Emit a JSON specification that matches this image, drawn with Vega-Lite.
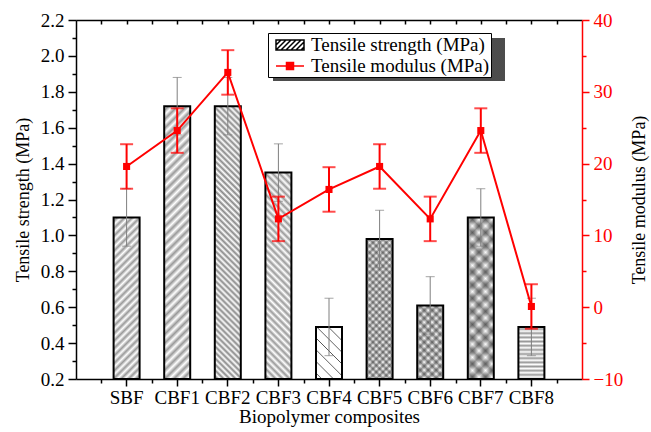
{
"$schema": "https://vega.github.io/schema/vega-lite/v6.json",
"width": 506,
"height": 359,
"autosize": "none",
"padding": {"left": 76, "top": 20, "right": 69, "bottom": 53},
"background": "white",
"data": {"values": [
 {"name": "SBF", "strength": 1.10, "strength_err": 0.16, "modulus": 19.6, "modulus_err": 3.1},
 {"name": "CBF1", "strength": 1.72, "strength_err": 0.16, "modulus": 24.6, "modulus_err": 3.1},
 {"name": "CBF2", "strength": 1.72, "strength_err": 0.16, "modulus": 32.7, "modulus_err": 3.1},
 {"name": "CBF3", "strength": 1.35, "strength_err": 0.16, "modulus": 12.3, "modulus_err": 3.1},
 {"name": "CBF4", "strength": 0.49, "strength_err": 0.16, "modulus": 16.4, "modulus_err": 3.1},
 {"name": "CBF5", "strength": 0.98, "strength_err": 0.16, "modulus": 19.6, "modulus_err": 3.1},
 {"name": "CBF6", "strength": 0.61, "strength_err": 0.16, "modulus": 12.3, "modulus_err": 3.1},
 {"name": "CBF7", "strength": 1.10, "strength_err": 0.16, "modulus": 24.6, "modulus_err": 3.1},
 {"name": "CBF8", "strength": 0.49, "strength_err": 0.16, "modulus": 0.1, "modulus_err": 3.1}
]},
"layer": [
 {
  "mark": {"type": "bar", "width": 26, "strokeWidth": 0},
  "encoding": {
   "x": {"field": "name", "type": "nominal", "sort": null, "scale": {"type": "band", "paddingInner": 0, "paddingOuter": 0.5},
         "axis": {"orient": "bottom", "tickSize": 7, "labelPadding": 2, "labelAngle": 0, "title": "Biopolymer composites", "titlePadding": 0, "titleFontSize": 19}},
   "y": {"field": "strength", "type": "quantitative", "scale": {"domain": [0.2, 2.2], "nice": false, "zero": false},
         "axis": {"orient": "left", "values": [0.2, 0.4, 0.6, 0.8, 1.0, 1.2, 1.4, 1.6, 1.8, 2.0, 2.2], "format": ".1f", "tickSize": 8, "labelPadding": 4, "title": "Tensile strength (MPa)", "titlePadding": 8}},
   "y2": {"datum": 0.2},
   "fill": {"condition": [
    {"test": "datum.name === 'SBF'", "value": {"gradient": "linear", "x1": 0, "y1": 0, "x2": 0.182, "y2": 1.132, "stops": [{"offset":0,"color":"#fff"},{"offset":0.02,"color":"#999"},{"offset":0.04,"color":"#fff"},{"offset":0.06,"color":"#999"},{"offset":0.08,"color":"#fff"},{"offset":0.1,"color":"#999"},{"offset":0.12,"color":"#fff"},{"offset":0.14,"color":"#999"},{"offset":0.16,"color":"#fff"},{"offset":0.18,"color":"#999"},{"offset":0.2,"color":"#fff"},{"offset":0.22,"color":"#999"},{"offset":0.24,"color":"#fff"},{"offset":0.26,"color":"#999"},{"offset":0.28,"color":"#fff"},{"offset":0.3,"color":"#999"},{"offset":0.32,"color":"#fff"},{"offset":0.34,"color":"#999"},{"offset":0.36,"color":"#fff"},{"offset":0.38,"color":"#999"},{"offset":0.4,"color":"#fff"},{"offset":0.42,"color":"#999"},{"offset":0.44,"color":"#fff"},{"offset":0.46,"color":"#999"},{"offset":0.48,"color":"#fff"},{"offset":0.5,"color":"#999"},{"offset":0.52,"color":"#fff"},{"offset":0.54,"color":"#999"},{"offset":0.56,"color":"#fff"},{"offset":0.58,"color":"#999"},{"offset":0.6,"color":"#fff"},{"offset":0.62,"color":"#999"},{"offset":0.64,"color":"#fff"},{"offset":0.66,"color":"#999"},{"offset":0.68,"color":"#fff"},{"offset":0.7,"color":"#999"},{"offset":0.72,"color":"#fff"},{"offset":0.74,"color":"#999"},{"offset":0.76,"color":"#fff"},{"offset":0.78,"color":"#999"},{"offset":0.8,"color":"#fff"},{"offset":0.82,"color":"#999"},{"offset":0.84,"color":"#fff"},{"offset":0.86,"color":"#999"},{"offset":0.88,"color":"#fff"},{"offset":0.9,"color":"#999"},{"offset":0.92,"color":"#fff"},{"offset":0.94,"color":"#999"},{"offset":0.96,"color":"#fff"},{"offset":0.98,"color":"#999"},{"offset":1,"color":"#fff"}]}},
    {"test": "datum.name === 'CBF1'", "value": {"gradient": "linear", "x1": 0, "y1": 0, "x2": 0.103, "y2": 1.085, "stops": [{"offset":0,"color":"#fff"},{"offset":0.015,"color":"#999"},{"offset":0.03,"color":"#fff"},{"offset":0.045,"color":"#999"},{"offset":0.06,"color":"#fff"},{"offset":0.075,"color":"#999"},{"offset":0.09,"color":"#fff"},{"offset":0.105,"color":"#999"},{"offset":0.12,"color":"#fff"},{"offset":0.135,"color":"#999"},{"offset":0.15,"color":"#fff"},{"offset":0.165,"color":"#999"},{"offset":0.18,"color":"#fff"},{"offset":0.195,"color":"#999"},{"offset":0.21,"color":"#fff"},{"offset":0.225,"color":"#999"},{"offset":0.24,"color":"#fff"},{"offset":0.255,"color":"#999"},{"offset":0.27,"color":"#fff"},{"offset":0.285,"color":"#999"},{"offset":0.3,"color":"#fff"},{"offset":0.315,"color":"#999"},{"offset":0.33,"color":"#fff"},{"offset":0.345,"color":"#999"},{"offset":0.36,"color":"#fff"},{"offset":0.375,"color":"#999"},{"offset":0.39,"color":"#fff"},{"offset":0.405,"color":"#999"},{"offset":0.42,"color":"#fff"},{"offset":0.435,"color":"#999"},{"offset":0.45,"color":"#fff"},{"offset":0.465,"color":"#999"},{"offset":0.48,"color":"#fff"},{"offset":0.495,"color":"#999"},{"offset":0.51,"color":"#fff"},{"offset":0.525,"color":"#999"},{"offset":0.54,"color":"#fff"},{"offset":0.555,"color":"#999"},{"offset":0.57,"color":"#fff"},{"offset":0.585,"color":"#999"},{"offset":0.6,"color":"#fff"},{"offset":0.615,"color":"#999"},{"offset":0.63,"color":"#fff"},{"offset":0.645,"color":"#999"},{"offset":0.66,"color":"#fff"},{"offset":0.675,"color":"#999"},{"offset":0.69,"color":"#fff"},{"offset":0.705,"color":"#999"},{"offset":0.72,"color":"#fff"},{"offset":0.735,"color":"#999"},{"offset":0.75,"color":"#fff"},{"offset":0.765,"color":"#999"},{"offset":0.78,"color":"#fff"},{"offset":0.795,"color":"#999"},{"offset":0.81,"color":"#fff"},{"offset":0.825,"color":"#999"},{"offset":0.84,"color":"#fff"},{"offset":0.855,"color":"#999"},{"offset":0.87,"color":"#fff"},{"offset":0.885,"color":"#999"},{"offset":0.9,"color":"#fff"},{"offset":0.915,"color":"#999"},{"offset":0.93,"color":"#fff"},{"offset":0.945,"color":"#999"},{"offset":0.96,"color":"#fff"},{"offset":0.975,"color":"#999"},{"offset":0.99,"color":"#fff"}]}},
    {"test": "datum.name === 'CBF2'", "value": {"gradient": "linear", "x1": 0, "y1": 1, "x2": 0.103, "y2": -0.085, "stops": [{"offset":0,"color":"#fff"},{"offset":0.01,"color":"#888"},{"offset":0.02,"color":"#fff"},{"offset":0.03,"color":"#888"},{"offset":0.04,"color":"#fff"},{"offset":0.05,"color":"#888"},{"offset":0.06,"color":"#fff"},{"offset":0.07,"color":"#888"},{"offset":0.08,"color":"#fff"},{"offset":0.09,"color":"#888"},{"offset":0.1,"color":"#fff"},{"offset":0.11,"color":"#888"},{"offset":0.12,"color":"#fff"},{"offset":0.13,"color":"#888"},{"offset":0.14,"color":"#fff"},{"offset":0.15,"color":"#888"},{"offset":0.16,"color":"#fff"},{"offset":0.17,"color":"#888"},{"offset":0.18,"color":"#fff"},{"offset":0.19,"color":"#888"},{"offset":0.2,"color":"#fff"},{"offset":0.21,"color":"#888"},{"offset":0.22,"color":"#fff"},{"offset":0.23,"color":"#888"},{"offset":0.24,"color":"#fff"},{"offset":0.25,"color":"#888"},{"offset":0.26,"color":"#fff"},{"offset":0.27,"color":"#888"},{"offset":0.28,"color":"#fff"},{"offset":0.29,"color":"#888"},{"offset":0.3,"color":"#fff"},{"offset":0.31,"color":"#888"},{"offset":0.32,"color":"#fff"},{"offset":0.33,"color":"#888"},{"offset":0.34,"color":"#fff"},{"offset":0.35,"color":"#888"},{"offset":0.36,"color":"#fff"},{"offset":0.37,"color":"#888"},{"offset":0.38,"color":"#fff"},{"offset":0.39,"color":"#888"},{"offset":0.4,"color":"#fff"},{"offset":0.41,"color":"#888"},{"offset":0.42,"color":"#fff"},{"offset":0.43,"color":"#888"},{"offset":0.44,"color":"#fff"},{"offset":0.45,"color":"#888"},{"offset":0.46,"color":"#fff"},{"offset":0.47,"color":"#888"},{"offset":0.48,"color":"#fff"},{"offset":0.49,"color":"#888"},{"offset":0.5,"color":"#fff"},{"offset":0.51,"color":"#888"},{"offset":0.52,"color":"#fff"},{"offset":0.53,"color":"#888"},{"offset":0.54,"color":"#fff"},{"offset":0.55,"color":"#888"},{"offset":0.56,"color":"#fff"},{"offset":0.57,"color":"#888"},{"offset":0.58,"color":"#fff"},{"offset":0.59,"color":"#888"},{"offset":0.6,"color":"#fff"},{"offset":0.61,"color":"#888"},{"offset":0.62,"color":"#fff"},{"offset":0.63,"color":"#888"},{"offset":0.64,"color":"#fff"},{"offset":0.65,"color":"#888"},{"offset":0.66,"color":"#fff"},{"offset":0.67,"color":"#888"},{"offset":0.68,"color":"#fff"},{"offset":0.69,"color":"#888"},{"offset":0.7,"color":"#fff"},{"offset":0.71,"color":"#888"},{"offset":0.72,"color":"#fff"},{"offset":0.73,"color":"#888"},{"offset":0.74,"color":"#fff"},{"offset":0.75,"color":"#888"},{"offset":0.76,"color":"#fff"},{"offset":0.77,"color":"#888"},{"offset":0.78,"color":"#fff"},{"offset":0.79,"color":"#888"},{"offset":0.8,"color":"#fff"},{"offset":0.81,"color":"#888"},{"offset":0.82,"color":"#fff"},{"offset":0.83,"color":"#888"},{"offset":0.84,"color":"#fff"},{"offset":0.85,"color":"#888"},{"offset":0.86,"color":"#fff"},{"offset":0.87,"color":"#888"},{"offset":0.88,"color":"#fff"},{"offset":0.89,"color":"#888"},{"offset":0.9,"color":"#fff"},{"offset":0.91,"color":"#888"},{"offset":0.92,"color":"#fff"},{"offset":0.93,"color":"#888"},{"offset":0.94,"color":"#fff"},{"offset":0.95,"color":"#888"},{"offset":0.96,"color":"#fff"},{"offset":0.97,"color":"#888"},{"offset":0.98,"color":"#fff"},{"offset":0.99,"color":"#888"},{"offset":1,"color":"#fff"}]}},
    {"test": "datum.name === 'CBF3'", "value": {"gradient": "linear", "x1": 0, "y1": 1, "x2": 0.14, "y2": -0.108, "stops": [{"offset":0,"color":"#fff"},{"offset":0.015,"color":"#999"},{"offset":0.03,"color":"#fff"},{"offset":0.045,"color":"#999"},{"offset":0.06,"color":"#fff"},{"offset":0.075,"color":"#999"},{"offset":0.09,"color":"#fff"},{"offset":0.105,"color":"#999"},{"offset":0.12,"color":"#fff"},{"offset":0.135,"color":"#999"},{"offset":0.15,"color":"#fff"},{"offset":0.165,"color":"#999"},{"offset":0.18,"color":"#fff"},{"offset":0.195,"color":"#999"},{"offset":0.21,"color":"#fff"},{"offset":0.225,"color":"#999"},{"offset":0.24,"color":"#fff"},{"offset":0.255,"color":"#999"},{"offset":0.27,"color":"#fff"},{"offset":0.285,"color":"#999"},{"offset":0.3,"color":"#fff"},{"offset":0.315,"color":"#999"},{"offset":0.33,"color":"#fff"},{"offset":0.345,"color":"#999"},{"offset":0.36,"color":"#fff"},{"offset":0.375,"color":"#999"},{"offset":0.39,"color":"#fff"},{"offset":0.405,"color":"#999"},{"offset":0.42,"color":"#fff"},{"offset":0.435,"color":"#999"},{"offset":0.45,"color":"#fff"},{"offset":0.465,"color":"#999"},{"offset":0.48,"color":"#fff"},{"offset":0.495,"color":"#999"},{"offset":0.51,"color":"#fff"},{"offset":0.525,"color":"#999"},{"offset":0.54,"color":"#fff"},{"offset":0.555,"color":"#999"},{"offset":0.57,"color":"#fff"},{"offset":0.585,"color":"#999"},{"offset":0.6,"color":"#fff"},{"offset":0.615,"color":"#999"},{"offset":0.63,"color":"#fff"},{"offset":0.645,"color":"#999"},{"offset":0.66,"color":"#fff"},{"offset":0.675,"color":"#999"},{"offset":0.69,"color":"#fff"},{"offset":0.705,"color":"#999"},{"offset":0.72,"color":"#fff"},{"offset":0.735,"color":"#999"},{"offset":0.75,"color":"#fff"},{"offset":0.765,"color":"#999"},{"offset":0.78,"color":"#fff"},{"offset":0.795,"color":"#999"},{"offset":0.81,"color":"#fff"},{"offset":0.825,"color":"#999"},{"offset":0.84,"color":"#fff"},{"offset":0.855,"color":"#999"},{"offset":0.87,"color":"#fff"},{"offset":0.885,"color":"#999"},{"offset":0.9,"color":"#fff"},{"offset":0.915,"color":"#999"},{"offset":0.93,"color":"#fff"},{"offset":0.945,"color":"#999"},{"offset":0.96,"color":"#fff"},{"offset":0.975,"color":"#999"},{"offset":0.99,"color":"#fff"}]}},
    {"test": "datum.name === 'CBF4'", "value": {"gradient": "linear", "x1": 0, "y1": 1, "x2": 0.6, "y2": -0.2, "stops": [{"offset":0,"color":"#fff"},{"offset":0.063,"color":"#fff"},{"offset":0.075,"color":"#555"},{"offset":0.087,"color":"#fff"},{"offset":0.213,"color":"#fff"},{"offset":0.225,"color":"#555"},{"offset":0.237,"color":"#fff"},{"offset":0.363,"color":"#fff"},{"offset":0.375,"color":"#555"},{"offset":0.387,"color":"#fff"},{"offset":0.513,"color":"#fff"},{"offset":0.525,"color":"#555"},{"offset":0.537,"color":"#fff"},{"offset":0.663,"color":"#fff"},{"offset":0.675,"color":"#555"},{"offset":0.687,"color":"#fff"},{"offset":0.813,"color":"#fff"},{"offset":0.825,"color":"#555"},{"offset":0.837,"color":"#fff"},{"offset":0.963,"color":"#fff"},{"offset":0.975,"color":"#555"},{"offset":0.987,"color":"#fff"}]}},
    {"test": "datum.name === 'CBF5'", "value": {"gradient": "linear", "x1": 0, "y1": 0, "x2": 0.213, "y2": 1.146, "stops": [{"offset":0,"color":"#fff"},{"offset":0.02,"color":"#999"},{"offset":0.04,"color":"#fff"},{"offset":0.06,"color":"#999"},{"offset":0.08,"color":"#fff"},{"offset":0.1,"color":"#999"},{"offset":0.12,"color":"#fff"},{"offset":0.14,"color":"#999"},{"offset":0.16,"color":"#fff"},{"offset":0.18,"color":"#999"},{"offset":0.2,"color":"#fff"},{"offset":0.22,"color":"#999"},{"offset":0.24,"color":"#fff"},{"offset":0.26,"color":"#999"},{"offset":0.28,"color":"#fff"},{"offset":0.3,"color":"#999"},{"offset":0.32,"color":"#fff"},{"offset":0.34,"color":"#999"},{"offset":0.36,"color":"#fff"},{"offset":0.38,"color":"#999"},{"offset":0.4,"color":"#fff"},{"offset":0.42,"color":"#999"},{"offset":0.44,"color":"#fff"},{"offset":0.46,"color":"#999"},{"offset":0.48,"color":"#fff"},{"offset":0.5,"color":"#999"},{"offset":0.52,"color":"#fff"},{"offset":0.54,"color":"#999"},{"offset":0.56,"color":"#fff"},{"offset":0.58,"color":"#999"},{"offset":0.6,"color":"#fff"},{"offset":0.62,"color":"#999"},{"offset":0.64,"color":"#fff"},{"offset":0.66,"color":"#999"},{"offset":0.68,"color":"#fff"},{"offset":0.7,"color":"#999"},{"offset":0.72,"color":"#fff"},{"offset":0.74,"color":"#999"},{"offset":0.76,"color":"#fff"},{"offset":0.78,"color":"#999"},{"offset":0.8,"color":"#fff"},{"offset":0.82,"color":"#999"},{"offset":0.84,"color":"#fff"},{"offset":0.86,"color":"#999"},{"offset":0.88,"color":"#fff"},{"offset":0.9,"color":"#999"},{"offset":0.92,"color":"#fff"},{"offset":0.94,"color":"#999"},{"offset":0.96,"color":"#fff"},{"offset":0.98,"color":"#999"},{"offset":1,"color":"#fff"}]}},
    {"test": "datum.name === 'CBF6'", "value": {"gradient": "linear", "x1": 0, "y1": 0, "x2": 0.425, "y2": 1.203, "stops": [{"offset":0,"color":"#fff"},{"offset":0.04,"color":"#999"},{"offset":0.08,"color":"#fff"},{"offset":0.12,"color":"#999"},{"offset":0.16,"color":"#fff"},{"offset":0.2,"color":"#999"},{"offset":0.24,"color":"#fff"},{"offset":0.28,"color":"#999"},{"offset":0.32,"color":"#fff"},{"offset":0.36,"color":"#999"},{"offset":0.4,"color":"#fff"},{"offset":0.44,"color":"#999"},{"offset":0.48,"color":"#fff"},{"offset":0.52,"color":"#999"},{"offset":0.56,"color":"#fff"},{"offset":0.6,"color":"#999"},{"offset":0.64,"color":"#fff"},{"offset":0.68,"color":"#999"},{"offset":0.72,"color":"#fff"},{"offset":0.76,"color":"#999"},{"offset":0.8,"color":"#fff"},{"offset":0.84,"color":"#999"},{"offset":0.88,"color":"#fff"},{"offset":0.92,"color":"#999"},{"offset":0.96,"color":"#fff"},{"offset":1,"color":"#999"}]}},
    {"test": "datum.name === 'CBF7'", "value": {"gradient": "linear", "x1": 0, "y1": 0, "x2": 0.182, "y2": 1.132, "stops": [{"offset":0,"color":"#fff"},{"offset":0.035,"color":"#999"},{"offset":0.07,"color":"#fff"},{"offset":0.105,"color":"#999"},{"offset":0.14,"color":"#fff"},{"offset":0.175,"color":"#999"},{"offset":0.21,"color":"#fff"},{"offset":0.245,"color":"#999"},{"offset":0.28,"color":"#fff"},{"offset":0.315,"color":"#999"},{"offset":0.35,"color":"#fff"},{"offset":0.385,"color":"#999"},{"offset":0.42,"color":"#fff"},{"offset":0.455,"color":"#999"},{"offset":0.49,"color":"#fff"},{"offset":0.525,"color":"#999"},{"offset":0.56,"color":"#fff"},{"offset":0.595,"color":"#999"},{"offset":0.63,"color":"#fff"},{"offset":0.665,"color":"#999"},{"offset":0.7,"color":"#fff"},{"offset":0.735,"color":"#999"},{"offset":0.77,"color":"#fff"},{"offset":0.805,"color":"#999"},{"offset":0.84,"color":"#fff"},{"offset":0.875,"color":"#999"},{"offset":0.91,"color":"#fff"},{"offset":0.945,"color":"#999"},{"offset":0.98,"color":"#fff"}]}},
    {"test": "datum.name === 'CBF8'", "value": {"gradient": "linear", "x1": 0, "y1": 0, "x2": 0, "y2": 1, "stops": [{"offset":0,"color":"#fff"},{"offset":0.04,"color":"#999"},{"offset":0.08,"color":"#fff"},{"offset":0.12,"color":"#999"},{"offset":0.16,"color":"#fff"},{"offset":0.2,"color":"#999"},{"offset":0.24,"color":"#fff"},{"offset":0.28,"color":"#999"},{"offset":0.32,"color":"#fff"},{"offset":0.36,"color":"#999"},{"offset":0.4,"color":"#fff"},{"offset":0.44,"color":"#999"},{"offset":0.48,"color":"#fff"},{"offset":0.52,"color":"#999"},{"offset":0.56,"color":"#fff"},{"offset":0.6,"color":"#999"},{"offset":0.64,"color":"#fff"},{"offset":0.68,"color":"#999"},{"offset":0.72,"color":"#fff"},{"offset":0.76,"color":"#999"},{"offset":0.8,"color":"#fff"},{"offset":0.84,"color":"#999"},{"offset":0.88,"color":"#fff"},{"offset":0.92,"color":"#999"},{"offset":0.96,"color":"#fff"},{"offset":1,"color":"#999"}]}}
   ], "value": "white"}
  }
 },
 {
  "mark": {"type": "bar", "width": 26, "stroke": "black", "strokeWidth": 2},
  "encoding": {
   "x": {"field": "name", "type": "nominal", "sort": null, "scale": {"type": "band", "paddingInner": 0, "paddingOuter": 0.5},
         "axis": {"orient": "bottom", "tickBand": "extent", "tickSize": 4, "labels": false, "domain": false, "title": null}},
   "y": {"field": "strength", "type": "quantitative", "scale": {"domain": [0.2, 2.2], "nice": false, "zero": false},
         "axis": {"orient": "left", "values": [0.3, 0.5, 0.7, 0.9, 1.1, 1.3, 1.5, 1.7, 1.9, 2.1], "tickSize": 4, "labels": false, "domain": false, "title": null}},
   "y2": {"datum": 0.2},
   "fill": {"condition": [
    {"test": "datum.name === 'CBF5'", "value": {"gradient": "linear", "x1": 0, "y1": 1, "x2": 0.213, "y2": -0.146, "stops": [{"offset":0,"color":"rgba(0,0,0,0)"},{"offset":0.02,"color":"rgba(0,0,0,0.4)"},{"offset":0.04,"color":"rgba(0,0,0,0)"},{"offset":0.06,"color":"rgba(0,0,0,0.4)"},{"offset":0.08,"color":"rgba(0,0,0,0)"},{"offset":0.1,"color":"rgba(0,0,0,0.4)"},{"offset":0.12,"color":"rgba(0,0,0,0)"},{"offset":0.14,"color":"rgba(0,0,0,0.4)"},{"offset":0.16,"color":"rgba(0,0,0,0)"},{"offset":0.18,"color":"rgba(0,0,0,0.4)"},{"offset":0.2,"color":"rgba(0,0,0,0)"},{"offset":0.22,"color":"rgba(0,0,0,0.4)"},{"offset":0.24,"color":"rgba(0,0,0,0)"},{"offset":0.26,"color":"rgba(0,0,0,0.4)"},{"offset":0.28,"color":"rgba(0,0,0,0)"},{"offset":0.3,"color":"rgba(0,0,0,0.4)"},{"offset":0.32,"color":"rgba(0,0,0,0)"},{"offset":0.34,"color":"rgba(0,0,0,0.4)"},{"offset":0.36,"color":"rgba(0,0,0,0)"},{"offset":0.38,"color":"rgba(0,0,0,0.4)"},{"offset":0.4,"color":"rgba(0,0,0,0)"},{"offset":0.42,"color":"rgba(0,0,0,0.4)"},{"offset":0.44,"color":"rgba(0,0,0,0)"},{"offset":0.46,"color":"rgba(0,0,0,0.4)"},{"offset":0.48,"color":"rgba(0,0,0,0)"},{"offset":0.5,"color":"rgba(0,0,0,0.4)"},{"offset":0.52,"color":"rgba(0,0,0,0)"},{"offset":0.54,"color":"rgba(0,0,0,0.4)"},{"offset":0.56,"color":"rgba(0,0,0,0)"},{"offset":0.58,"color":"rgba(0,0,0,0.4)"},{"offset":0.6,"color":"rgba(0,0,0,0)"},{"offset":0.62,"color":"rgba(0,0,0,0.4)"},{"offset":0.64,"color":"rgba(0,0,0,0)"},{"offset":0.66,"color":"rgba(0,0,0,0.4)"},{"offset":0.68,"color":"rgba(0,0,0,0)"},{"offset":0.7,"color":"rgba(0,0,0,0.4)"},{"offset":0.72,"color":"rgba(0,0,0,0)"},{"offset":0.74,"color":"rgba(0,0,0,0.4)"},{"offset":0.76,"color":"rgba(0,0,0,0)"},{"offset":0.78,"color":"rgba(0,0,0,0.4)"},{"offset":0.8,"color":"rgba(0,0,0,0)"},{"offset":0.82,"color":"rgba(0,0,0,0.4)"},{"offset":0.84,"color":"rgba(0,0,0,0)"},{"offset":0.86,"color":"rgba(0,0,0,0.4)"},{"offset":0.88,"color":"rgba(0,0,0,0)"},{"offset":0.9,"color":"rgba(0,0,0,0.4)"},{"offset":0.92,"color":"rgba(0,0,0,0)"},{"offset":0.94,"color":"rgba(0,0,0,0.4)"},{"offset":0.96,"color":"rgba(0,0,0,0)"},{"offset":0.98,"color":"rgba(0,0,0,0.4)"},{"offset":1,"color":"rgba(0,0,0,0)"}]}},
    {"test": "datum.name === 'CBF6'", "value": {"gradient": "linear", "x1": 0, "y1": 1, "x2": 0.425, "y2": -0.203, "stops": [{"offset":0,"color":"rgba(0,0,0,0)"},{"offset":0.04,"color":"rgba(0,0,0,0.4)"},{"offset":0.08,"color":"rgba(0,0,0,0)"},{"offset":0.12,"color":"rgba(0,0,0,0.4)"},{"offset":0.16,"color":"rgba(0,0,0,0)"},{"offset":0.2,"color":"rgba(0,0,0,0.4)"},{"offset":0.24,"color":"rgba(0,0,0,0)"},{"offset":0.28,"color":"rgba(0,0,0,0.4)"},{"offset":0.32,"color":"rgba(0,0,0,0)"},{"offset":0.36,"color":"rgba(0,0,0,0.4)"},{"offset":0.4,"color":"rgba(0,0,0,0)"},{"offset":0.44,"color":"rgba(0,0,0,0.4)"},{"offset":0.48,"color":"rgba(0,0,0,0)"},{"offset":0.52,"color":"rgba(0,0,0,0.4)"},{"offset":0.56,"color":"rgba(0,0,0,0)"},{"offset":0.6,"color":"rgba(0,0,0,0.4)"},{"offset":0.64,"color":"rgba(0,0,0,0)"},{"offset":0.68,"color":"rgba(0,0,0,0.4)"},{"offset":0.72,"color":"rgba(0,0,0,0)"},{"offset":0.76,"color":"rgba(0,0,0,0.4)"},{"offset":0.8,"color":"rgba(0,0,0,0)"},{"offset":0.84,"color":"rgba(0,0,0,0.4)"},{"offset":0.88,"color":"rgba(0,0,0,0)"},{"offset":0.92,"color":"rgba(0,0,0,0.4)"},{"offset":0.96,"color":"rgba(0,0,0,0)"},{"offset":1,"color":"rgba(0,0,0,0.4)"}]}},
    {"test": "datum.name === 'CBF7'", "value": {"gradient": "linear", "x1": 0, "y1": 1, "x2": 0.182, "y2": -0.132, "stops": [{"offset":0,"color":"rgba(0,0,0,0)"},{"offset":0.035,"color":"rgba(0,0,0,0.4)"},{"offset":0.07,"color":"rgba(0,0,0,0)"},{"offset":0.105,"color":"rgba(0,0,0,0.4)"},{"offset":0.14,"color":"rgba(0,0,0,0)"},{"offset":0.175,"color":"rgba(0,0,0,0.4)"},{"offset":0.21,"color":"rgba(0,0,0,0)"},{"offset":0.245,"color":"rgba(0,0,0,0.4)"},{"offset":0.28,"color":"rgba(0,0,0,0)"},{"offset":0.315,"color":"rgba(0,0,0,0.4)"},{"offset":0.35,"color":"rgba(0,0,0,0)"},{"offset":0.385,"color":"rgba(0,0,0,0.4)"},{"offset":0.42,"color":"rgba(0,0,0,0)"},{"offset":0.455,"color":"rgba(0,0,0,0.4)"},{"offset":0.49,"color":"rgba(0,0,0,0)"},{"offset":0.525,"color":"rgba(0,0,0,0.4)"},{"offset":0.56,"color":"rgba(0,0,0,0)"},{"offset":0.595,"color":"rgba(0,0,0,0.4)"},{"offset":0.63,"color":"rgba(0,0,0,0)"},{"offset":0.665,"color":"rgba(0,0,0,0.4)"},{"offset":0.7,"color":"rgba(0,0,0,0)"},{"offset":0.735,"color":"rgba(0,0,0,0.4)"},{"offset":0.77,"color":"rgba(0,0,0,0)"},{"offset":0.805,"color":"rgba(0,0,0,0.4)"},{"offset":0.84,"color":"rgba(0,0,0,0)"},{"offset":0.875,"color":"rgba(0,0,0,0.4)"},{"offset":0.91,"color":"rgba(0,0,0,0)"},{"offset":0.945,"color":"rgba(0,0,0,0.4)"},{"offset":0.98,"color":"rgba(0,0,0,0)"}]}}
   ], "value": "transparent"}
  }
 },
 {
  "mark": {"type": "errorbar", "color": "#7f7f7f", "thickness": 1, "ticks": {"size": 9, "thickness": 1}},
  "encoding": {
   "x": {"field": "name", "type": "nominal", "sort": null, "scale": {"type": "point", "padding": 1}, "axis": null},
   "y": {"field": "strength", "type": "quantitative", "scale": {"domain": [0.2, 2.2], "nice": false, "zero": false}, "axis": null},
   "yError": {"field": "strength_err"}
  }
 },
 {
  "mark": {"type": "line", "color": "red", "strokeWidth": 2},
  "encoding": {
   "x": {"field": "name", "type": "nominal", "sort": null, "scale": {"type": "point", "padding": 1},
         "axis": {"orient": "top", "tickSize": -4, "labels": false, "title": null}},
   "y": {"field": "modulus", "type": "quantitative", "scale": {"domain": [-10, 40], "nice": false, "zero": false},
         "axis": {"orient": "right", "values": [-10, 0, 10, 20, 30, 40], "tickSize": 7, "labelPadding": 4, "labelColor": "red", "tickColor": "red", "domainColor": "red", "title": "Tensile modulus (MPa)", "titleAngle": 270, "titleBaseline": "top", "titlePadding": 8}}
  }
 },
 {
  "mark": {"type": "errorbar", "color": "red", "thickness": 2, "ticks": {"size": 13, "thickness": 2}},
  "encoding": {
   "x": {"field": "name", "type": "nominal", "sort": null, "scale": {"type": "point", "padding": 1}, "axis": null},
   "y": {"field": "modulus", "type": "quantitative", "scale": {"domain": [-10, 40], "nice": false, "zero": false}, "axis": null},
   "yError": {"field": "modulus_err"}
  }
 },
 {
  "mark": {"type": "point", "shape": "square", "filled": true, "color": "red", "size": 50, "opacity": 1},
  "encoding": {
   "x": {"field": "name", "type": "nominal", "sort": null, "scale": {"type": "band", "paddingInner": 0, "paddingOuter": 0.5},
         "axis": {"orient": "top", "tickBand": "extent", "tickSize": -4, "labels": false, "domain": false, "title": null}},
   "y": {"field": "modulus", "type": "quantitative", "scale": {"domain": [-10, 40], "nice": false, "zero": false},
         "axis": {"orient": "right", "values": [-5, 5, 15, 25, 35], "tickSize": 4, "labels": false, "domain": false, "tickColor": "red", "title": null}}
  }
 },
 {
  "transform": [{"filter": "false"}],
  "mark": {"type": "point", "filled": true},
  "encoding": {
   "x": {"field": "name", "type": "nominal", "scale": {"type": "point", "padding": 1}, "axis": null},
   "y": {"field": "modulus", "type": "quantitative", "scale": {"domain": [-10, 40], "nice": false}, "axis": null},
   "color": {"datum": 1, "type": "quantitative",
     "scale": {"domain": [0, 1], "range": ["black", "black"]},
     "legend": {"title": null, "orient": "none", "direction": "horizontal", "legendX": 197, "legendY": 18, "padding": 0, "gradientLength": 232, "gradientThickness": 43, "gradientStrokeWidth": 0, "labelExpr": "''", "labelFontSize": 1, "tickCount": 2}}
  }
 },
 {
  "transform": [{"filter": "false"}],
  "mark": {"type": "point", "filled": true},
  "encoding": {
   "x": {"field": "name", "type": "nominal", "scale": {"type": "point", "padding": 1}, "axis": null},
   "y": {"field": "modulus", "type": "quantitative", "scale": {"domain": [-10, 40], "nice": false}, "axis": null},
   "shape": {"datum": "Tensile strength (MPa)", "type": "nominal",
     "scale": {"domain": ["Tensile strength (MPa)", "Tensile modulus (MPa)"], "range": ["M-1.4,-0.5H1.4V0.5H-1.4ZM-1.4,0L-0.9,-0.5M-1.4,0.5L-0.4,-0.5M-0.9,0.5L0.1,-0.5M-0.4,0.5L0.6,-0.5M0.1,0.5L1.1,-0.5M0.6,0.5L1.4,-0.3M1.1,0.5L1.4,0.2", "M-1.4,0H1.4M-0.35,-0.35H0.35V0.35H-0.35Z"]},
     "legend": {"title": null, "orient": "none", "legendX": 192, "legendY": 13, "padding": 1, "rowPadding": 0, "strokeColor": "black", "fillColor": "white", "labelFont": "Liberation Serif", "labelFontSize": 19, "labelColor": "black", "labelLimit": 400, "symbolSize": 400, "symbolStrokeWidth": 1.5, "symbolOpacity": 1, "symbolOffset": 10, "labelOffset": 10, "labelExpr": "datum.label + '   '"}},
   "fill": {"datum": "Tensile strength (MPa)", "type": "nominal",
     "scale": {"domain": ["Tensile strength (MPa)", "Tensile modulus (MPa)"], "range": ["white", "red"]},
     "legend": {"title": null, "orient": "none", "legendX": 192, "legendY": 13, "padding": 1, "rowPadding": 0, "strokeColor": "black", "fillColor": "white", "labelFont": "Liberation Serif", "labelFontSize": 19, "labelColor": "black", "labelLimit": 400, "symbolSize": 400, "symbolStrokeWidth": 1.5, "symbolOpacity": 1, "symbolOffset": 10, "labelOffset": 10, "labelExpr": "datum.label + '   '"}},
   "stroke": {"datum": "Tensile strength (MPa)", "type": "nominal",
     "scale": {"domain": ["Tensile strength (MPa)", "Tensile modulus (MPa)"], "range": ["black", "red"]},
     "legend": {"title": null, "orient": "none", "legendX": 192, "legendY": 13, "padding": 1, "rowPadding": 0, "strokeColor": "black", "fillColor": "white", "labelFont": "Liberation Serif", "labelFontSize": 19, "labelColor": "black", "labelLimit": 400, "symbolSize": 400, "symbolStrokeWidth": 1.5, "symbolOpacity": 1, "symbolOffset": 10, "labelOffset": 10, "labelExpr": "datum.label + '   '"}}
  }
 }
],
"resolve": {"scale": {"x": "independent", "y": "independent"}, "axis": {"x": "independent", "y": "independent"}},
"config": {
 "font": "Liberation Serif",
 "view": {"stroke": null},
 "axis": {"grid": false, "labelFont": "Liberation Serif", "titleFont": "Liberation Serif", "labelFontSize": 19, "titleFontSize": 18, "titleFontWeight": "normal", "labelColor": "black", "titleColor": "black", "domainColor": "black", "tickColor": "black", "domainWidth": 1.5, "tickWidth": 1.5, "labelFlush": false, "labelOverlap": false, "labelBound": false}
}
}
